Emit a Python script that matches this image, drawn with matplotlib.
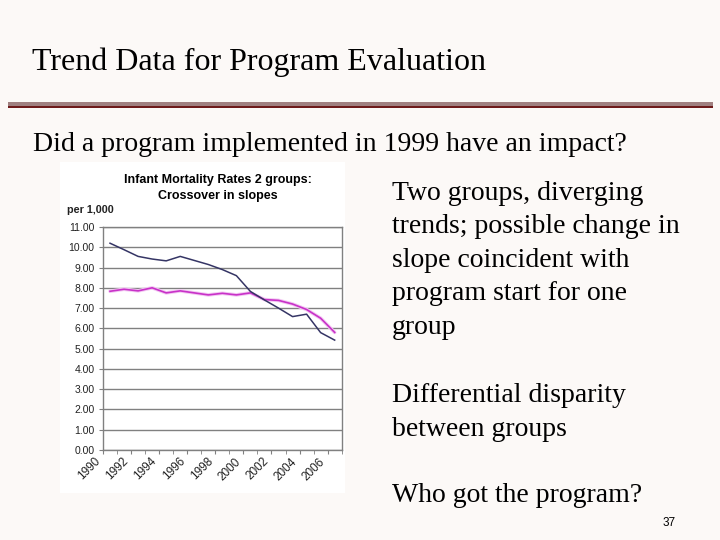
import matplotlib
matplotlib.use('Agg')
import matplotlib.pyplot as plt
from matplotlib.patches import Rectangle
import numpy as np

# data (rate per 1,000)
years = list(range(1990, 2007))
group_dark = [10.2, 9.88, 9.55, 9.42, 9.33, 9.55, 9.35, 9.15, 8.9, 8.6,
              7.82, 7.4, 7.0, 6.58, 6.7, 5.79, 5.42]
group_pink = [7.83, 7.93, 7.85, 8.0, 7.75, 7.85, 7.75, 7.65, 7.73, 7.65,
              7.75, 7.42, 7.38, 7.2, 6.93, 6.5, 5.8]
ytick_vals = np.arange(0, 12, 1)
xtick_labels = [str(y) for y in years[::2]]

W, H = 720, 540
bg = '#fcf9f7'
serif = 'Liberation Serif'
sans = 'Liberation Sans'
body_size = 20


def fx(x):
    return x / W


def fy(y):
    return 1 - y / H


fig = plt.figure(figsize=(7.2, 5.4), dpi=100, facecolor=bg)

# slide title + separator bar
fig.text(fx(32), fy(70), 'Trend Data for Program Evaluation', family=serif,
         fontsize=23, va='baseline', ha='left', color='black')
fig.patches.append(Rectangle((fx(8), fy(106)), fx(705), 4 / H, transform=fig.transFigure,
                             facecolor='#a08080', edgecolor='none', zorder=0))
fig.patches.append(Rectangle((fx(8), fy(107.5)), fx(705), 1.5 / H, transform=fig.transFigure,
                             facecolor='#6e1a1a', edgecolor='none', zorder=0))

fig.text(fx(33), fy(151), 'Did a program implemented in 1999 have an impact?', family=serif,
         fontsize=body_size, va='baseline', ha='left')

# right hand bullet text
body = ['Two groups, diverging', 'trends; possible change in', 'slope coincident with',
        'program start for one', 'group']
for i, line in enumerate(body):
    fig.text(fx(392), fy(200 + 33.5 * i), line, family=serif, fontsize=body_size, va='baseline')
fig.text(fx(392), fy(402), 'Differential disparity', family=serif, fontsize=body_size, va='baseline')
fig.text(fx(392), fy(436), 'between groups', family=serif, fontsize=body_size, va='baseline')
fig.text(fx(392), fy(502), 'Who got the program?', family=serif, fontsize=body_size, va='baseline')
fig.text(fx(663), fy(526), '37', family=sans, fontsize=8.5, va='baseline')

# white chart box
fig.patches.append(Rectangle((fx(60), fy(493)), fx(285), 331 / H, transform=fig.transFigure,
                             facecolor='white', edgecolor='none', zorder=-1))
fig.text(fx(218), fy(180), 'Infant Mortality Rates 2 groups:', family=sans, fontsize=9,
         weight='bold', ha='center', va='center')
fig.text(fx(218), fy(196), 'Crossover in slopes', family=sans, fontsize=9,
         weight='bold', ha='center', va='center')
fig.text(fx(67), fy(210), 'per 1,000', family=sans, fontsize=7.8, weight='bold',
         ha='left', va='center', color='#222222')

ax = fig.add_axes([fx(103), fy(450), fx(341.7 - 103), (450 - 227) / H])
ax.set_zorder(2)
ax.set_facecolor('white')
x = np.arange(len(years))
ax.plot(x, group_pink, color='#f3c8f3', lw=2.6, solid_capstyle='round')
ax.plot(x, group_pink, color='#c832c8', lw=1.2)
ax.plot(x, group_dark, color='#353565', lw=1.1)

ax.set_xlim(-0.5, len(years) - 0.5)
ax.set_ylim(0, 11)
ax.set_yticks(ytick_vals)
ax.set_yticklabels(['%.2f' % v for v in ytick_vals], family=sans, fontsize=7.5, color='#222222')
ax.yaxis.grid(True, color='#808080', lw=1.0)
ax.set_axisbelow(True)

# Excel style: tick marks between categories, rotated labels ending at the left edge
ax.set_xticks(x[::2] - 0.5)
ax.set_xticklabels(xtick_labels, rotation=45, ha='right', va='top', family=sans,
                   fontsize=8.5, color='#222222')
ax.set_xticks(np.arange(-0.5, len(years)), minor=True)
ax.tick_params(axis='x', which='both', length=3, color='#808080', pad=1)
ax.tick_params(axis='y', length=3, color='#808080', pad=3)
for s in ax.spines.values():
    s.set_color('#808080')
    s.set_linewidth(1.0)

fig.savefig('out.png', dpi=100, facecolor=bg)
